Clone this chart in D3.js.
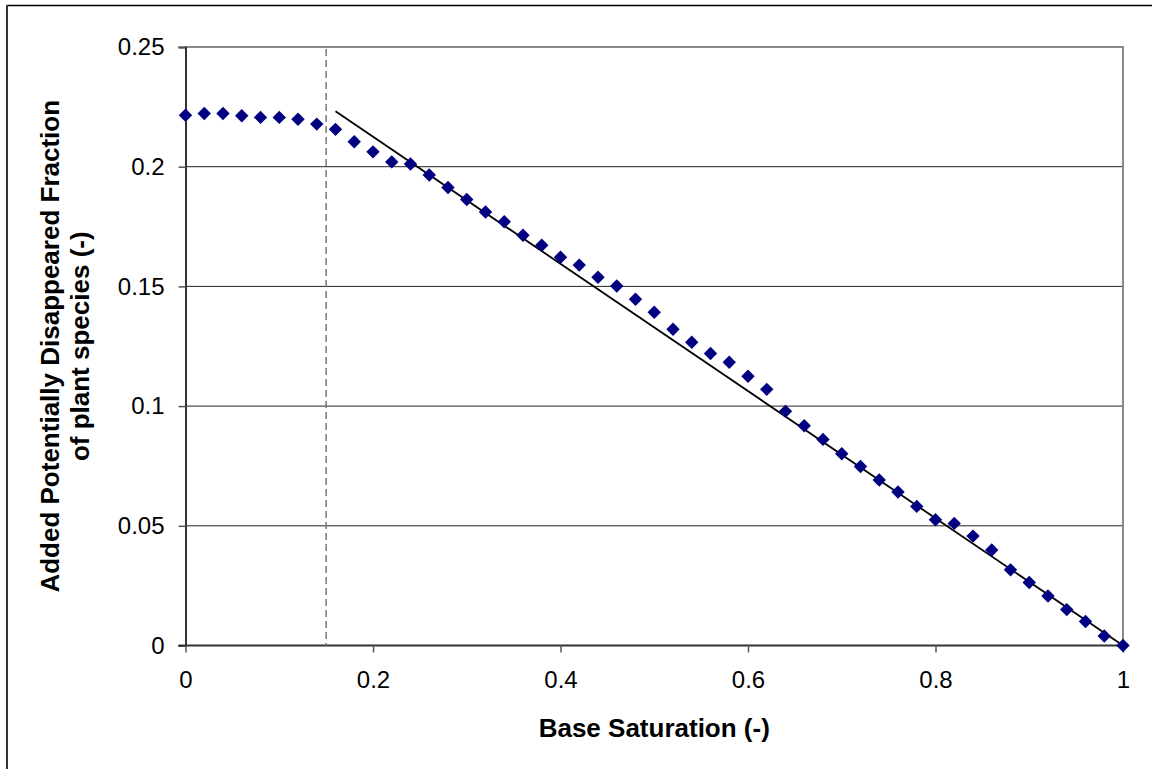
<!DOCTYPE html>
<html>
<head>
<meta charset="utf-8">
<script src="https://cdn.jsdelivr.net/npm/d3@7"></script>
<style>
  body { margin: 0; background: #fff; }
  svg { display: block; font-family: "Liberation Sans", Arial, sans-serif; }
</style>
</head>
<body>
<svg id="chart"></svg>
<script>
// base saturation (x) and added PDF of plant species (y)
const baseSaturation = [
  0, 0.02, 0.04, 0.06, 0.08, 0.10, 0.12, 0.14, 0.16, 0.18,
  0.20, 0.22, 0.24, 0.26, 0.28, 0.30, 0.32, 0.34, 0.36, 0.38,
  0.40, 0.42, 0.44, 0.46, 0.48, 0.50, 0.52, 0.54, 0.56, 0.58,
  0.60, 0.62, 0.64, 0.66, 0.68, 0.70, 0.72, 0.74, 0.76, 0.78,
  0.80, 0.82, 0.84, 0.86, 0.88, 0.90, 0.92, 0.94, 0.96, 0.98, 1.00
];
const addedPDF = [
  0.2215, 0.2222, 0.2222, 0.2213, 0.2206, 0.2206, 0.2198, 0.2178, 0.2156, 0.2104,
  0.2062, 0.2020, 0.2011, 0.1965, 0.1913, 0.1863, 0.1811, 0.1770, 0.1714, 0.1672,
  0.1622, 0.1589, 0.1538, 0.1502, 0.1446, 0.1392, 0.1321, 0.1267, 0.1220, 0.1183,
  0.1125, 0.1070, 0.0978, 0.0918, 0.0861, 0.0801, 0.0748, 0.0691, 0.0641, 0.0581,
  0.0525, 0.0510, 0.0457, 0.0399, 0.0316, 0.0263, 0.0207, 0.0150, 0.0100, 0.0040, 0
];
// straight fitted line and the dashed threshold
const trendX = [0.16, 1.0];
const trendY = [0.2232, 0];
const thresholdX = 0.15;

const xTicks = [0, 0.2, 0.4, 0.6, 0.8, 1];
const xTickLabels = ['0', '0.2', '0.4', '0.6', '0.8', '1'];
const yTicks = [0, 0.05, 0.1, 0.15, 0.2, 0.25];
const yTickLabels = ['0', '0.05', '0.1', '0.15', '0.2', '0.25'];

const xTitle = 'Base Saturation (-)';
const yTitle = ['Added Potentially Disappeared Fraction', 'of plant species (-)'];

const width = 1157;
const height = 769;
const plotLeft = 185.5, plotRight = 1123, plotTop = 47, plotBottom = 645.5;

const svg = d3.select('#chart').attr('width', width).attr('height', height);

svg.append('rect').attr('width', width).attr('height', height).attr('fill', '#fff');

// outer chart frame (only top and left edges show in the picture)
svg.append('line').attr('x1', 7).attr('y1', 5.5).attr('x2', 1152).attr('y2', 5.5)
  .attr('stroke', '#000').attr('stroke-width', 1.5);
svg.append('line').attr('x1', 7).attr('y1', 5).attr('x2', 7).attr('y2', height)
  .attr('stroke', '#333').attr('stroke-width', 2);

const x = d3.scaleLinear().domain([0, 1]).range([plotLeft, plotRight]);
const y = d3.scaleLinear().domain([0, 0.25]).range([plotBottom, plotTop]);

// gridlines
svg.append('g')
  .selectAll('line')
  .data(yTicks.filter(function(t) { return t > 0 && t < 0.25; }))
  .enter()
  .append('line')
  .attr('x1', plotLeft).attr('x2', plotRight)
  .attr('y1', function(t) { return y(t); })
  .attr('y2', function(t) { return y(t); })
  .attr('stroke', '#222').attr('stroke-width', 1);

// plot area border, top and right in gray
svg.append('path')
  .attr('d', 'M' + plotLeft + ',' + y(0.25) + 'H' + x(1) + 'V' + plotBottom)
  .attr('fill', 'none').attr('stroke', '#8a8a8a').attr('stroke-width', 2);

// y axis
const yAxis = svg.append('g')
  .attr('transform', 'translate(' + plotLeft + ',0)')
  .call(d3.axisLeft(y).tickValues(yTicks).tickSize(7).tickPadding(14)
    .tickFormat(function(d, i) { return yTickLabels[i]; }));

// x axis
const xAxis = svg.append('g')
  .attr('transform', 'translate(0,' + plotBottom + ')')
  .call(d3.axisBottom(x).tickValues(xTicks).tickSize(7).tickPadding(18)
    .tickFormat(function(d, i) { return xTickLabels[i]; }));

[xAxis, yAxis].forEach(function(ax) {
  ax.select('.domain').attr('stroke', '#333').attr('stroke-width', 2);
  ax.selectAll('.tick line').attr('stroke', '#555').attr('stroke-width', 1.5);
  ax.selectAll('.tick text')
    .attr('fill', '#000')
    .attr('font-size', 24)
    .attr('font-family', '"Liberation Sans", Arial, sans-serif');
});
xAxis.select('.domain').attr('d', 'M' + (plotLeft - 7) + ',0H' + plotRight);

// dashed threshold line
svg.append('line')
  .attr('x1', x(thresholdX)).attr('x2', x(thresholdX))
  .attr('y1', y(0.25) + 2).attr('y2', plotBottom)
  .attr('stroke', '#777').attr('stroke-width', 1.5)
  .attr('stroke-dasharray', '7,4');

// fitted line
svg.append('line')
  .attr('x1', x(trendX[0])).attr('y1', y(trendY[0]))
  .attr('x2', x(trendX[1])).attr('y2', y(trendY[1]))
  .attr('stroke', '#000').attr('stroke-width', 1.8);

// diamond markers
const diamond = d3.symbol().type(d3.symbolSquare).size(90);
svg.append('g')
  .selectAll('path')
  .data(baseSaturation)
  .enter()
  .append('path')
  .attr('d', diamond)
  .attr('fill', '#000080')
  .attr('transform', function(d, i) {
    return 'translate(' + x(d) + ',' + y(addedPDF[i]) + ') rotate(45)';
  });

// axis titles
svg.append('text')
  .attr('x', (plotLeft + plotRight) / 2)
  .attr('y', 737)
  .attr('text-anchor', 'middle')
  .attr('font-size', 26)
  .attr('font-weight', 'bold')
  .text(xTitle);

const yt = svg.append('text')
  .attr('transform', 'translate(0,' + (plotTop + plotBottom) / 2 + ') rotate(-90)')
  .attr('text-anchor', 'middle')
  .attr('font-size', 26)
  .attr('font-weight', 'bold');
yt.selectAll('tspan')
  .data(yTitle)
  .enter()
  .append('tspan')
  .attr('x', 0)
  .attr('y', function(d, i) { return i === 0 ? 59 : 89; })
  .text(function(d) { return d; });
</script>
</body>
</html>
